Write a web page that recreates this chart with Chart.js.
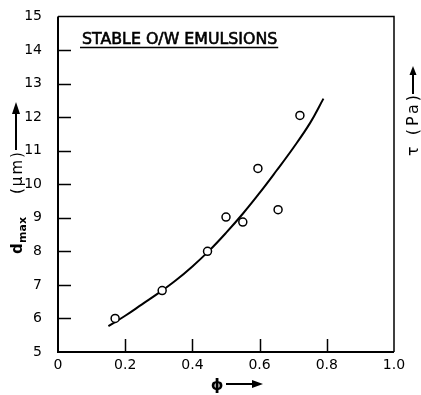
<!DOCTYPE html>
<html>
<head>
<meta charset="utf-8">
<script src="https://cdn.jsdelivr.net/npm/chart.js@4.4.1/dist/chart.umd.min.js"></script>
<style>
html,body{margin:0;padding:0;background:#fff;}
canvas{display:block;}
</style>
</head>
<body>
<canvas id="c" width="421" height="395"></canvas>
<script>
// measured points
const phiPoints = [0.17, 0.31, 0.445, 0.50, 0.55, 0.595, 0.655, 0.72];
const dmaxPoints = [6.0, 6.83, 8.0, 9.02, 8.87, 10.47, 9.24, 12.05];
// fitted curve
const curvePhi = [0.15, 0.20, 0.25, 0.30, 0.35, 0.40, 0.45, 0.50, 0.55, 0.60, 0.65, 0.70, 0.75, 0.79];
const curveDmax = [5.77, 6.08, 6.42, 6.76, 7.13, 7.55, 8.02, 8.55, 9.12, 9.74, 10.40, 11.08, 11.82, 12.55];
// axes
const xTickValues = [0, 0.2, 0.4, 0.6, 0.8, 1.0];
const xTickLabels = ['0', '0.2', '0.4', '0.6', '0.8', '1.0'];
const yTickValues = [5, 6, 7, 8, 9, 10, 11, 12, 13, 14, 15];
const yTickLabels = ['5', '6', '7', '8', '9', '10', '11', '12', '13', '14', '15'];
const titleText = 'STABLE O/W EMULSIONS';
const xTitle = 'ϕ';
const yTitleMain = 'd';
const yTitleSub = 'max';
const yTitleUnit = '(μm)';
const rightTitle = 'τ (Pa)';

function arrow(ctx, x1, y1, x2, y2, head, hw) {
  const a = Math.atan2(y2 - y1, x2 - x1);
  ctx.beginPath();
  ctx.moveTo(x1, y1);
  ctx.lineTo(x2 - head * Math.cos(a), y2 - head * Math.sin(a));
  ctx.stroke();
  ctx.beginPath();
  ctx.moveTo(x2, y2);
  ctx.lineTo(x2 - head * Math.cos(a) + hw * Math.sin(a), y2 - head * Math.sin(a) - hw * Math.cos(a));
  ctx.lineTo(x2 - head * Math.cos(a) - hw * Math.sin(a), y2 - head * Math.sin(a) + hw * Math.cos(a));
  ctx.closePath();
  ctx.fill();
}

const decor = {
  id: 'decor',
  afterDraw(chart) {
    const ctx = chart.ctx;
    const ca = chart.chartArea;
    const xs = chart.scales.x, ys = chart.scales.y;
    ctx.save();
    ctx.strokeStyle = '#000';
    ctx.fillStyle = '#000';
    // frame
    ctx.lineWidth = 2;
    ctx.beginPath();
    ctx.moveTo(ca.left, ca.top); ctx.lineTo(ca.left, ca.bottom); ctx.lineTo(ca.right, ca.bottom);
    ctx.stroke();
    ctx.lineWidth = 1.5;
    ctx.beginPath();
    ctx.moveTo(ca.left, ca.top); ctx.lineTo(ca.right, ca.top); ctx.lineTo(ca.right, ca.bottom);
    ctx.stroke();
    // inward ticks
    ctx.lineWidth = 1.5;
    ctx.beginPath();
    yTickValues.forEach(v => {
      if (v === ys.min || v === ys.max) return;
      const y = Math.round(ys.getPixelForValue(v)) + 0.5;
      ctx.moveTo(ca.left, y); ctx.lineTo(ca.left + 13, y);
    });
    xTickValues.forEach(v => {
      if (v === xs.min || v === xs.max) return;
      const x = Math.round(xs.getPixelForValue(v)) + 0.5;
      ctx.moveTo(x, ca.bottom); ctx.lineTo(x, ca.bottom - 13);
    });
    ctx.stroke();
    // title
    ctx.font = '15.8px "DejaVu Sans"';
    ctx.textBaseline = 'alphabetic';
    ctx.textAlign = 'left';
    ctx.fillText(titleText, 82, 44);
    ctx.lineWidth = 0.6;
    ctx.strokeText(titleText, 82, 44);
    const w = ctx.measureText(titleText).width;
    ctx.lineWidth = 1.5;
    ctx.beginPath(); ctx.moveTo(80, 47.5); ctx.lineTo(82 + w + 1, 47.5); ctx.stroke();
    // x title
    ctx.font = 'bold 16px "DejaVu Sans"';
    ctx.textAlign = 'center';
    ctx.fillText(xTitle, 217, 390);
    ctx.lineWidth = 2;
    arrow(ctx, 226, 384, 263, 384, 11, 4);
    // y title (rotated)
    ctx.save();
    ctx.translate(22, 254);
    ctx.rotate(-Math.PI / 2);
    ctx.textAlign = 'left';
    ctx.font = 'bold 15px "DejaVu Sans"';
    ctx.fillText(yTitleMain, 0, 0);
    ctx.font = 'bold 11px "DejaVu Sans"';
    ctx.fillText(yTitleSub, 11, 4);
    ctx.font = '15px "DejaVu Sans"';
    ctx.letterSpacing = '2px';
    ctx.fillText(yTitleUnit, 60, 0);
    ctx.restore();
    ctx.lineWidth = 2;
    arrow(ctx, 16, 150, 16, 102, 12, 4);
    // right title (rotated)
    ctx.save();
    ctx.translate(418, 156);
    ctx.rotate(-Math.PI / 2);
    ctx.textAlign = 'left';
    ctx.font = '16px "DejaVu Sans"';
    ctx.letterSpacing = '3px';
    ctx.fillText(rightTitle, 0, 0);
    ctx.restore();
    arrow(ctx, 413, 94, 413, 66, 9, 3.5);
    ctx.restore();
  }
};

new Chart(document.getElementById('c'), {
  type: 'scatter',
  data: {
    datasets: [
      {
        data: phiPoints.map((x, i) => ({ x, y: dmaxPoints[i] })),
        pointRadius: 4,
        pointBackgroundColor: '#fff',
        pointBorderColor: '#000',
        pointBorderWidth: 1.5,
        showLine: false,
        order: 0
      },
      {
        data: curvePhi.map((x, i) => ({ x, y: curveDmax[i] })),
        showLine: true,
        pointRadius: 0,
        borderColor: '#000',
        borderWidth: 2,
        tension: 0.4,
        order: 1
      }
    ]
  },
  options: {
    responsive: false,
    animation: false,
    events: [],
    layout: { padding: { left: 0, top: 13, right: 27, bottom: 0 } },
    plugins: { legend: { display: false }, tooltip: { enabled: false } },
    scales: {
      x: {
        type: 'linear', min: 0, max: 1,
        grid: { display: false },
        border: { display: false },
        afterBuildTicks: s => { s.ticks = xTickValues.map(v => ({ value: v })); },
        afterFit: s => { s.height = 43; },
        ticks: {
          color: '#000', padding: -3,
          font: { family: '"DejaVu Sans"', size: 14 },
          maxRotation: 0, autoSkip: false,
          callback: (v, i) => xTickLabels[i]
        }
      },
      y: {
        type: 'linear', min: 5, max: 15,
        grid: { display: false },
        border: { display: false },
        afterBuildTicks: s => { s.ticks = yTickValues.map(v => ({ value: v })); },
        afterFit: s => { s.width = 58; },
        ticks: {
          color: '#000', padding: 8,
          font: { family: '"DejaVu Sans"', size: 14 },
          autoSkip: false,
          callback: (v, i) => yTickLabels[i]
        }
      }
    }
  },
  plugins: [decor]
});
</script>
</body>
</html>
